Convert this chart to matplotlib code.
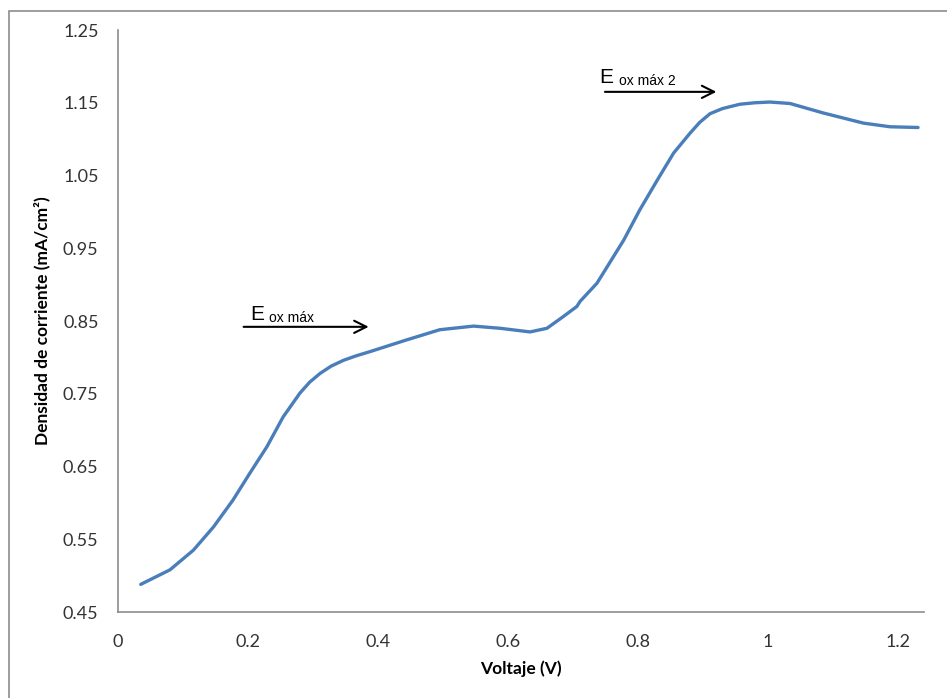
import matplotlib
matplotlib.use("Agg")
import matplotlib.pyplot as plt
from matplotlib.patches import Rectangle

# voltaje (V) y densidad de corriente (mA/cm2)
voltaje = [0.035, 0.080, 0.116, 0.147, 0.177, 0.203, 0.229, 0.254, 0.280, 0.295,
           0.311, 0.328, 0.347, 0.366, 0.388, 0.444, 0.495, 0.547, 0.588, 0.634,
           0.660, 0.685, 0.706, 0.711, 0.737, 0.778, 0.803, 0.830, 0.855, 0.880,
           0.895, 0.911, 0.930, 0.957, 0.980, 1.003, 1.034, 1.085, 1.147, 1.188,
           1.231]
corriente = [0.488, 0.508, 0.535, 0.567, 0.604, 0.641, 0.677, 0.718, 0.751, 0.766,
             0.778, 0.788, 0.796, 0.802, 0.808, 0.824, 0.838, 0.843, 0.840, 0.835,
             0.840, 0.856, 0.870, 0.877, 0.902, 0.961, 1.003, 1.044, 1.081, 1.108,
             1.123, 1.135, 1.142, 1.148, 1.150, 1.151, 1.149, 1.136, 1.122, 1.117,
             1.116]

x_ticks = [0, 0.2, 0.4, 0.6, 0.8, 1.0, 1.2]
x_labels = ["0", "0.2", "0.4", "0.6", "0.8", "1", "1.2"]
y_ticks = [0.45, 0.55, 0.65, 0.75, 0.85, 0.95, 1.05, 1.15, 1.25]

# flechas: (x inicio, x fin, y)
flecha1 = (0.189, 0.390, 0.842)
flecha2 = (0.745, 0.925, 1.165)

plt.rcParams['font.family'] = ['Lato', 'DejaVu Sans']

fig = plt.figure(figsize=(9.47, 6.98), dpi=100)
ax = fig.add_axes([0.1246, 0.1232, 0.851, 0.8338])

# marco gris exterior
fig.patches.append(Rectangle((0.0095, -0.1), 1.2, 1.084, transform=fig.transFigure,
                             fill=False, edgecolor="#8c8c8c", linewidth=1.2))

ax.plot(voltaje, corriente, color="#4a7ebb", linewidth=2.4,
        solid_capstyle="round", solid_joinstyle="round")

ax.set_xlim(0, 1.24)
ax.set_ylim(0.45, 1.25)
ax.set_xticks(x_ticks)
ax.set_xticklabels(x_labels)
ax.set_yticks(y_ticks)
ax.set_yticklabels([f"{v:.2f}" for v in y_ticks])
ax.tick_params(length=0, labelsize=13, colors="#333333", pad=14)
ax.tick_params(axis="x", pad=16)

for s in ["top", "right"]:
    ax.spines[s].set_visible(False)
for s in ["left", "bottom"]:
    ax.spines[s].set_color("#8c8c8c")
    ax.spines[s].set_linewidth(1.2)

ax.set_xlabel("Voltaje (V)", fontsize=12.5, fontweight="bold", labelpad=7)
ax.set_ylabel("Densidad de corriente (mA/cm²)", fontsize=12.5, fontweight="bold", labelpad=9)

for (x0, x1, y) in [flecha1, flecha2]:
    ax.annotate("", xy=(x1, y), xytext=(x0, y),
                arrowprops=dict(arrowstyle="->", color="black", lw=1.5,
                                mutation_scale=22))

ax.text(0.203, 0.852, "E", fontsize=15, family="Liberation Sans", va="baseline")
ax.text(0.233, 0.849, "ox máx", fontsize=10, family="Liberation Sans", va="baseline")
ax.text(0.740, 1.177, "E", fontsize=15, family="Liberation Sans", va="baseline")
ax.text(0.771, 1.174, "ox máx 2", fontsize=10, family="Liberation Sans", va="baseline")

fig.savefig("out.png", dpi=100)
